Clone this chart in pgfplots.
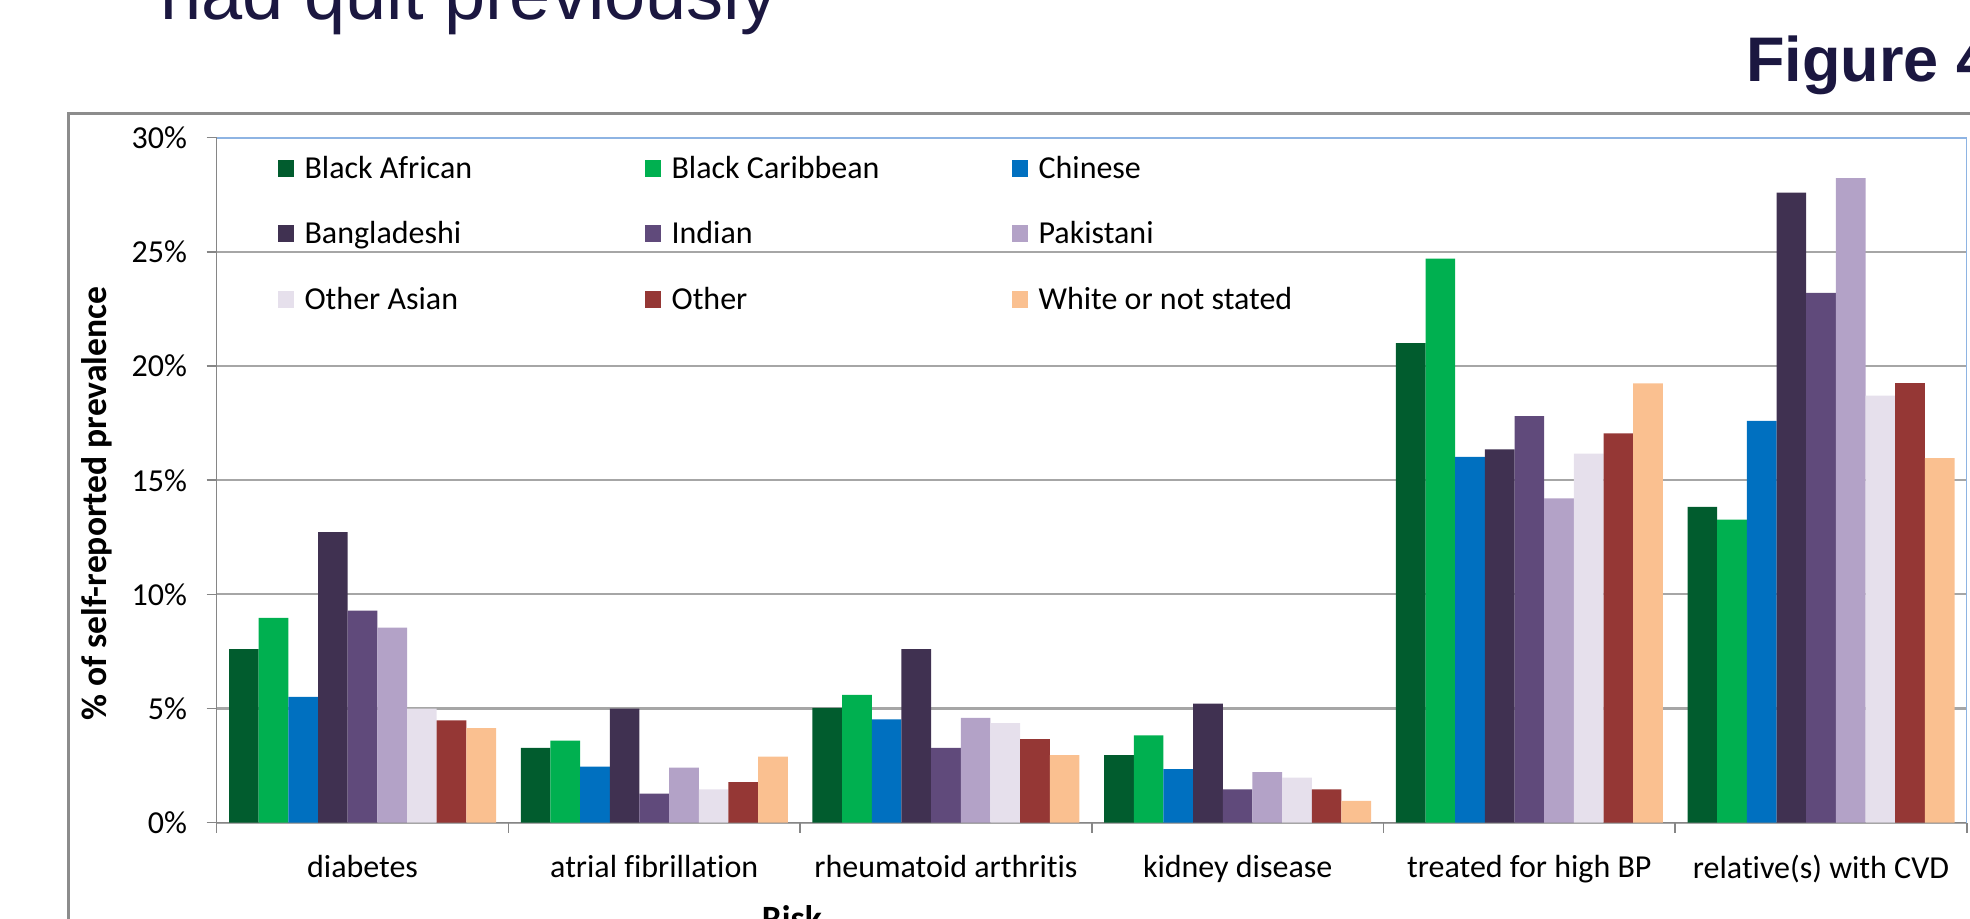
\documentclass[border=0pt]{standalone}
\usepackage{fontspec}
\setmainfont{Carlito}[RawFeature={-liga}]
\newfontfamily\arialfont{Liberation Sans}
\usepackage{pgfplots}
\usepackage{pgfplotstable}
\pgfplotsset{compat=1.18}

\definecolor{cBA}{HTML}{015C2E}
\definecolor{cBC}{HTML}{00B050}
\definecolor{cCH}{HTML}{0070C0}
\definecolor{cBD}{HTML}{403151}
\definecolor{cIN}{HTML}{604A7B}
\definecolor{cPK}{HTML}{B3A2C7}
\definecolor{cOA}{HTML}{E6E0EC}
\definecolor{cOT}{HTML}{953735}
\definecolor{cWH}{HTML}{FAC090}
\definecolor{navy}{HTML}{1B1740}
\definecolor{framegray}{HTML}{8C8C8C}
\definecolor{axisgray}{HTML}{868686}
\definecolor{gridgray}{HTML}{A6A6A6}
\definecolor{borderblue}{HTML}{8EB4E3}

\pgfplotstableread{
x ba bc ch bd ind pk oa ot wh
0 7.6 8.97 5.51 12.73 9.29 8.54 5.0 4.48 4.14
1 3.28 3.6 2.46 5.0 1.27 2.41 1.46 1.78 2.9
2 5.03 5.6 4.53 7.6 3.28 4.59 4.36 3.66 2.96
3 2.96 3.83 2.35 5.22 1.46 2.22 1.98 1.46 0.96
4 21.0 24.71 16.02 16.35 17.81 14.21 16.17 17.05 19.24
5 13.83 13.27 17.6 27.59 23.2 28.23 18.7 19.25 15.97
}\datatable

\pgfplotsset{
  mybar/.style={fill=#1, draw=none,
    legend image code/.code={\fill[##1] (0pt,-3pt) rectangle (8pt,5.5pt);}},
}

\begin{document}
\begin{tikzpicture}
\path[use as bounding box] (0,0) rectangle (985pt,-459pt);
\clip (0,0) rectangle (985pt,-459pt);
\draw[color=framegray, line width=1.4pt] (34.25pt,-56.75pt) rectangle (1010pt,-480pt);
\node[anchor=base west, inner sep=0pt, text=navy, font=\arialfont\fontsize{37}{40}\selectfont] at (80pt,-9.5pt) {had quit previously};
\node[anchor=base west, inner sep=0pt, text=navy, font=\arialfont\bfseries\fontsize{31.5}{36}\selectfont] at (873pt,-40.85pt) {Figure 4};
\begin{axis}[
  at={(108.35pt,-411.35pt)}, anchor=south west,
  scale only axis, width=875.1pt, height=342.5pt,
  xmin=-0.5, xmax=5.5, ymin=0, ymax=30,
  ybar=0pt, bar width=0.1017,
  legend image code/.code={\fill[#1] (0pt,-3pt) rectangle (8pt,5.5pt);},
  axis lines*=left,
  axis line style={color=axisgray, line width=0.75pt},
  ytick={0,5,...,30},
  yticklabel={\pgfmathprintnumber{\tick}\%},
  ymajorgrids, grid style={color=gridgray, line width=1.1pt},
  tick align=outside, major tick length=5pt, minor tick length=5pt,
  y tick style={color=axisgray, line width=0.75pt},
  xtick={0,...,5},
  xticklabels={diabetes, atrial fibrillation, rheumatoid arthritis, kidney disease, treated for high BP, relative(s) with CVD},
  minor xtick={-0.5,0.5,...,5.5},
  major x tick style={draw=none},
  minor x tick style={color=axisgray, line width=0.75pt},
  /pgf/number format/assume math mode=true,
  ticklabel style={font=\fontsize{16}{19}\selectfont},
  yticklabel style={xshift=-6.3pt},
  xticklabel style={yshift=-7.5pt},
  xlabel={Risk}, ylabel={\% of self-reported prevalence},
  every axis x label/.style={at={(rel axis cs:0.3286,-0.1197)}, anchor=north, inner sep=0pt, font=\bfseries\fontsize{17.8}{21}\selectfont},
  every axis y label/.style={at={(rel axis cs:-0.0684,0.4657)}, rotate=90, anchor=center, inner sep=0pt, font=\bfseries\fontsize{17.8}{21}\selectfont},
  legend columns=3,
  legend cell align=left,
  legend style={at={(rel axis cs:0.035,0.9733)}, anchor=north west, draw=none, fill=none,
    inner sep=0pt, outer sep=0pt, row sep=18.3pt,
    font=\fontsize{16}{19}\selectfont,
    nodes={inner sep=0pt, text height=11pt, text depth=3.5pt},
    /tikz/every odd column/.append style={column sep=5.3pt}},
]
\addplot[mybar=cBA] table[x=x,y=ba]{\datatable};
\addlegendentry{\makebox[170.2pt][l]{Black African}}
\addplot[mybar=cBC] table[x=x,y=bc]{\datatable};
\addlegendentry{\makebox[170.2pt][l]{Black Caribbean}}
\addplot[mybar=cCH] table[x=x,y=ch]{\datatable};
\addlegendentry{\makebox[170.2pt][l]{Chinese}}
\addplot[mybar=cBD] table[x=x,y=bd]{\datatable};
\addlegendentry{\makebox[170.2pt][l]{Bangladeshi}}
\addplot[mybar=cIN] table[x=x,y=ind]{\datatable};
\addlegendentry{\makebox[170.2pt][l]{Indian}}
\addplot[mybar=cPK] table[x=x,y=pk]{\datatable};
\addlegendentry{\makebox[170.2pt][l]{Pakistani}}
\addplot[mybar=cOA] table[x=x,y=oa]{\datatable};
\addlegendentry{\makebox[170.2pt][l]{Other Asian}}
\addplot[mybar=cOT] table[x=x,y=ot]{\datatable};
\addlegendentry{\makebox[170.2pt][l]{Other}}
\addplot[mybar=cWH] table[x=x,y=wh]{\datatable};
\addlegendentry{\makebox[170.2pt][l]{White or not stated}}
\draw[color=borderblue, line width=1pt] (rel axis cs:0,1) -- (rel axis cs:1,1) -- (rel axis cs:1,0);
\end{axis}
\end{tikzpicture}
\end{document}
